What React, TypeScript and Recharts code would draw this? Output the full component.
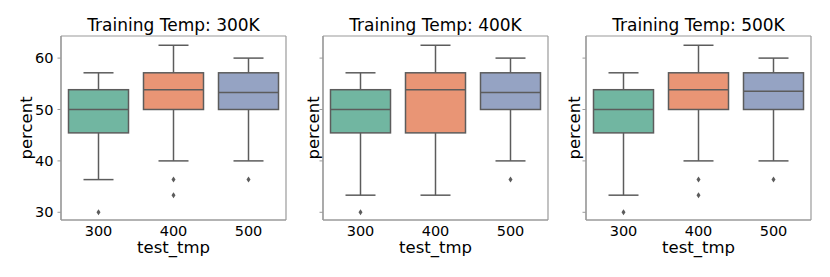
import { Bar, CartesianGrid, ComposedChart, XAxis, YAxis } from "recharts";

const categories = ["300", "400", "500"];
const boxColors = ["#71b6a1", "#e99575", "#95a3c3"];
const yTicks = [30, 40, 50, 60];
const yDomain = [28.5, 64.3];

// Training Temp: 300K
const t300Low = [36.36, 40, 40];
const t300Q1 = [45.45, 50, 50];
const t300Median = [50, 53.85, 53.33];
const t300Q3 = [53.85, 57.14, 57.14];
const t300High = [57.14, 62.5, 60];
const t300Outliers = [[30], [36.36, 33.33], [36.36]];

// Training Temp: 400K
const t400Low = [33.33, 33.33, 40];
const t400Q1 = [45.45, 45.45, 50];
const t400Median = [50, 53.85, 53.33];
const t400Q3 = [53.85, 57.14, 57.14];
const t400High = [57.14, 62.5, 60];
const t400Outliers = [[30], [], [36.36]];

// Training Temp: 500K
const t500Low = [33.33, 40, 40];
const t500Q1 = [45.45, 50, 50];
const t500Median = [50, 53.85, 53.57];
const t500Q3 = [53.85, 57.14, 57.14];
const t500High = [57.14, 62.5, 60];
const t500Outliers = [[30], [36.36, 33.33], [36.36]];

type BoxRow = {
  name: string;
  low: number;
  q1: number;
  median: number;
  q3: number;
  high: number;
  outliers: number[];
  color: string;
};

function buildRows(
  low: number[],
  q1: number[],
  median: number[],
  q3: number[],
  high: number[],
  outliers: number[][]
): BoxRow[] {
  return categories.map((name, i) => ({
    name,
    low: low[i],
    q1: q1[i],
    median: median[i],
    q3: q3[i],
    high: high[i],
    outliers: outliers[i],
    color: boxColors[i],
  }));
}

const LINE = "#5c5c5c";
const FRAME = "#9a9a9a";

// the bar spans [lowest point, high]; the box parts are placed on the same scale
function BoxShape(props: any) {
  const { x, y, width, height, payload } = props;
  const d = payload as BoxRow;
  const bottom = Math.min(d.low, ...d.outliers);
  const k = height / (d.high - bottom);
  const py = (v: number) => y + (d.high - v) * k;
  const cx = x + width / 2;
  const cap = width / 4;
  return (
    <g>
      <line x1={cx} x2={cx} y1={py(d.q3)} y2={py(d.high)} stroke={LINE} strokeWidth={1.5} />
      <line x1={cx} x2={cx} y1={py(d.q1)} y2={py(d.low)} stroke={LINE} strokeWidth={1.5} />
      <line x1={cx - cap} x2={cx + cap} y1={py(d.high)} y2={py(d.high)} stroke={LINE} strokeWidth={1.5} />
      <line x1={cx - cap} x2={cx + cap} y1={py(d.low)} y2={py(d.low)} stroke={LINE} strokeWidth={1.5} />
      <rect
        x={x}
        y={py(d.q3)}
        width={width}
        height={py(d.q1) - py(d.q3)}
        fill={d.color}
        stroke={LINE}
        strokeWidth={1.5}
      />
      <line x1={x} x2={x + width} y1={py(d.median)} y2={py(d.median)} stroke={LINE} strokeWidth={1.5} />
      {d.outliers.map((o, i) => (
        <polygon
          key={i}
          points={`${cx},${py(o) - 3} ${cx + 2},${py(o)} ${cx},${py(o) + 3} ${cx - 2},${py(o)}`}
          fill={LINE}
        />
      ))}
    </g>
  );
}

type PanelProps = {
  title: string;
  rows: BoxRow[];
  left: number;
  axisWidth: number;
  showTickLabels: boolean;
  labelOffset: number;
};

function BoxPanel({ title, rows, left, axisWidth, showTickLabels, labelOffset }: PanelProps) {
  const plotWidth = 225;
  return (
    <div style={{ position: "absolute", left, top: 0 }}>
      <div
        style={{
          position: "absolute",
          left: axisWidth,
          top: 16.5,
          width: plotWidth,
          textAlign: "center",
          fontSize: 17,
          lineHeight: "17px",
          color: "#000",
          whiteSpace: "nowrap",
        }}
      >
        {title}
      </div>
      <ComposedChart
        width={axisWidth + plotWidth + 5}
        height={277}
        data={rows}
        margin={{ top: 36, right: 5, bottom: 0, left: 0 }}
        barCategoryGap="10%"
      >
        <CartesianGrid
          stroke={FRAME}
          strokeWidth={1.2}
          horizontalCoordinatesGenerator={({ offset }: any) => [offset.top, offset.top + offset.height]}
          verticalCoordinatesGenerator={({ offset }: any) => [offset.left, offset.left + offset.width]}
        />
        <XAxis
          dataKey="name"
          height={57}
          tickLine={false}
          tickSize={4}
          tickMargin={2}
          axisLine={{ stroke: FRAME, strokeWidth: 1.2 }}
          tick={{ fill: "#000", fontSize: 14.5 }}
          label={{ value: "test_tmp", position: "insideBottom", offset: 24, fill: "#000", fontSize: 16.5 }}
        />
        <YAxis
          type="number"
          domain={yDomain}
          ticks={yTicks}
          width={axisWidth}
          tickSize={3.5}
          tickMargin={4}
          tickLine={{ stroke: FRAME }}
          axisLine={{ stroke: FRAME, strokeWidth: 1.2 }}
          tick={{ fill: "#000", fontSize: 14.5 }}
          tickFormatter={(v) => (showTickLabels ? String(v) : "")}
          label={{
            value: "percent",
            angle: -90,
            position: "insideLeft",
            offset: labelOffset,
            fill: "#000",
            fontSize: 16.5,
            style: { textAnchor: "middle" },
          }}
        />
        <Bar
          dataKey={(d: BoxRow) => [Math.min(d.low, ...d.outliers), d.high]}
          shape={BoxShape}
          isAnimationActive={false}
        />
      </ComposedChart>
    </div>
  );
}

export default function App() {
  return (
    <div
      style={{
        position: "absolute",
        left: 0,
        top: 0,
        width: 830,
        height: 277,
        background: "#fff",
        fontFamily: "DejaVu Sans",
      }}
    >
      <BoxPanel
        title="Training Temp: 300K"
        rows={buildRows(t300Low, t300Q1, t300Median, t300Q3, t300High, t300Outliers)}
        left={0}
        axisWidth={61}
        showTickLabels
        labelOffset={26}
      />
      <BoxPanel
        title="Training Temp: 400K"
        rows={buildRows(t400Low, t400Q1, t400Median, t400Q3, t400High, t400Outliers)}
        left={295}
        axisWidth={28}
        showTickLabels={false}
        labelOffset={18}
      />
      <BoxPanel
        title="Training Temp: 500K"
        rows={buildRows(t500Low, t500Q1, t500Median, t500Q3, t500High, t500Outliers)}
        left={560}
        axisWidth={26}
        showTickLabels={false}
        labelOffset={14}
      />
    </div>
  );
}
